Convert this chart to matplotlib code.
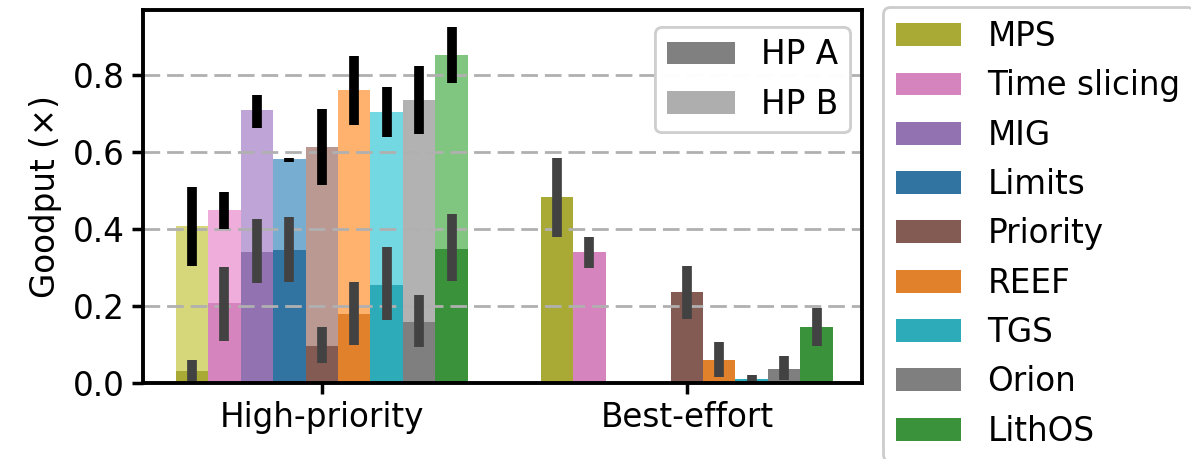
import numpy as np
import matplotlib
matplotlib.use('Agg')
import matplotlib.pyplot as plt
import seaborn as sns
from matplotlib.patches import Patch

# systems and their colours (tab10, seaborn-style desaturated)
systems = ['MPS', 'Time slicing', 'MIG', 'Limits', 'Priority', 'REEF', 'TGS', 'Orion', 'LithOS']
base_colors = ['#bcbd22', '#e377c2', '#9467bd', '#1f77b4', '#8c564b',
               '#ff7f0e', '#17becf', '#7f7f7f', '#2ca02c']
groups = ['High-priority', 'Best-effort']

# high-priority: HP A (dark) and total with HP B (light)
hp_a = [0.031, 0.208, 0.341, 0.346, 0.097, 0.180, 0.255, 0.158, 0.348]
hp_a_lo = [0.005, 0.110, 0.260, 0.262, 0.051, 0.099, 0.164, 0.094, 0.266]
hp_a_hi = [0.060, 0.303, 0.427, 0.433, 0.145, 0.262, 0.355, 0.228, 0.440]
hp_tot = [0.409, 0.450, 0.711, 0.583, 0.615, 0.762, 0.704, 0.737, 0.854]
hp_tot_lo = [0.305, 0.401, 0.664, 0.575, 0.516, 0.672, 0.640, 0.648, 0.780]
hp_tot_hi = [0.510, 0.497, 0.750, 0.585, 0.713, 0.851, 0.771, 0.824, 0.926]

# best-effort
be = [0.484, 0.341, 0.0, 0.0, 0.237, 0.060, 0.010, 0.037, 0.145]
be_lo = [0.380, 0.300, np.nan, np.nan, 0.166, 0.015, 0.000, 0.008, 0.097]
be_hi = [0.586, 0.380, np.nan, np.nan, 0.305, 0.107, 0.022, 0.070, 0.194]

colors = [sns.desaturate(c, 0.75) for c in base_colors]
FS = 23.5

plt.rcParams['font.family'] = 'DejaVu Sans'
fig = plt.figure(figsize=(11.91, 4.59), dpi=100)
ax = fig.add_axes([0.12, 0.1656, 0.6038, 0.8124])

n = len(systems)
w = 0.8 / n
offsets = (np.arange(n) - (n - 1) / 2) * w

for i in range(n):
    x0 = 0 + offsets[i]
    x1 = 1 + offsets[i]
    # HP B (light) first, then HP A on top
    ax.bar(x0, hp_tot[i], width=w, color=base_colors[i], alpha=0.6, linewidth=0, zorder=1)
    ax.bar(x0, hp_a[i], width=w, color=colors[i], linewidth=0, zorder=1.5)
    ax.bar(x1, be[i], width=w, color=colors[i], linewidth=0, zorder=1.5)
    ax.plot([x0, x0], [hp_tot_lo[i], hp_tot_hi[i]], color='black', lw=7, solid_capstyle='butt', zorder=4)
    ax.plot([x0, x0], [hp_a_lo[i], hp_a_hi[i]], color='#424242', lw=7, solid_capstyle='butt', zorder=4)
    if not np.isnan(be_lo[i]):
        ax.plot([x1, x1], [be_lo[i], be_hi[i]], color='#424242', lw=7, solid_capstyle='butt', zorder=4)

yticks = [0.0, 0.2, 0.4, 0.6, 0.8]
for y in yticks[1:]:
    ax.axhline(y, color='#b0b0b0', lw=2, linestyle=(0, (6, 2.5)), zorder=2)

ax.set_xlim(-0.49, 1.48)
ax.set_ylim(0, 0.97)
ax.set_xticks([0, 1])
ax.set_xticklabels(groups)
ax.set_yticks(yticks)
ax.set_yticklabels(['0.0', '0.2', '0.4', '0.6', '0.8'])
ax.set_ylabel('Goodput (×)', fontsize=FS, labelpad=8)
ax.tick_params(labelsize=FS, length=8, width=2.5, pad=5)
for s in ax.spines.values():
    s.set_linewidth(2.8)
    s.set_zorder(5)

# HP A / HP B legend
hp_handles = [Patch(facecolor='#808080', label='HP A'),
              Patch(facecolor='#808080', alpha=0.6, label='HP B')]
leg1 = ax.legend(handles=hp_handles, loc='upper right',
                 bbox_to_anchor=(850 / 1191, 1 - 27 / 459), bbox_transform=fig.transFigure,
                 fontsize=FS, handlelength=2.1, handletextpad=0.8, borderaxespad=0,
                 labelspacing=0.5, borderpad=0.35, framealpha=0.85)
leg1.get_frame().set_linewidth(2)
leg1.get_frame().set_edgecolor('#cccccc')
leg1.set_zorder(6)
ax.add_artist(leg1)

# systems legend outside
sys_handles = [Patch(facecolor=colors[i], label=systems[i]) for i in range(n)]
leg2 = fig.legend(handles=sys_handles, loc='upper left',
                  bbox_to_anchor=(883 / 1191, 1 - 7 / 459), borderaxespad=0,
                  fontsize=FS, handlelength=2.0, handletextpad=0.8, labelspacing=0.5,
                  borderpad=0.4, framealpha=1)
leg2.get_frame().set_linewidth(2)
leg2.get_frame().set_edgecolor('#cccccc')

fig.savefig('out.png', dpi=100)
